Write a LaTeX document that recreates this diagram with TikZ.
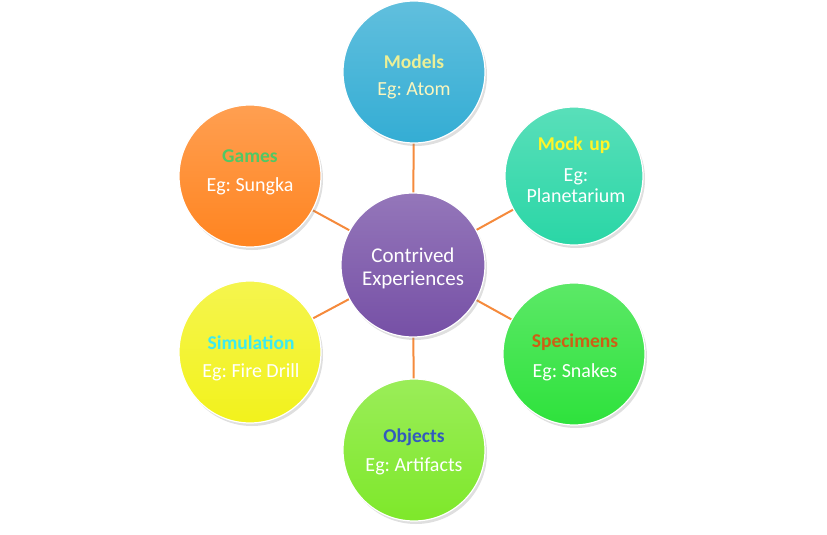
\documentclass[tikz,border=0pt]{standalone}
\usepackage{fontspec}
\setmainfont{Carlito}
\frenchspacing
\usetikzlibrary{shadows}
\definecolor{conn}{HTML}{F58A3C}
\definecolor{cblue}{HTML}{34ADD4}
\definecolor{cteal}{HTML}{2AD6A6}
\definecolor{corange}{HTML}{FF8420}
\definecolor{cyellow}{HTML}{F2F21C}
\definecolor{cgreen}{HTML}{2EE23C}
\definecolor{clime}{HTML}{7EE82A}
\definecolor{cpurple}{HTML}{7650A6}
\tikzset{
  bubble/.style={circle, minimum size=142pt, inner sep=0pt, align=center,
    draw=white, line width=1.2pt, top color=#1!78!white, bottom color=#1,
    drop shadow={shadow xshift=2pt, shadow yshift=-3pt, opacity=0.25}},
  link/.style={draw=conn, line width=2pt},
  ttl/.style={font=\bfseries\fontsize{19.5}{22}\selectfont},
  sub/.style={font=\fontsize{20}{22}\selectfont},
}
\begin{document}
\begin{tikzpicture}[x=1pt,y=-1pt]
\frenchspacing
\useasboundingbox (0,0) rectangle (827,535);
\coordinate (cc) at (413,265);
\coordinate (pm) at (414,72);
\coordinate (pk) at (574,176);
\coordinate (pg) at (250,176);
\coordinate (ps) at (250,352);
\coordinate (pp) at (574,354);
\coordinate (po) at (414,450);
\draw[link] (cc) -- (pm);
\draw[link] (cc) -- (pk);
\draw[link] (cc) -- (pg);
\draw[link] (cc) -- (ps);
\draw[link] (cc) -- (pp);
\draw[link] (cc) -- (po);
\node[bubble=cblue] (models) at (pm) {};
\node[bubble=cteal, minimum size=138pt] (mock) at (pk) {};
\node[bubble=corange] (games) at (pg) {};
\node[bubble=cyellow] (sim) at (ps) {};
\node[bubble=cgreen] (spec) at (pp) {};
\node[bubble=clime] (obj) at (po) {};
\node[bubble=cpurple, minimum size=144pt] (center) at (cc) {};
% texts
\node[ttl, text={rgb,255:red,236;green,240;blue,150}] (t1) at (414,62) {Models};
\node[sub, text={rgb,255:red,250;green,246;blue,190}] (s1) at (414,91) {Eg: Atom};
\node[ttl, text={rgb,255:red,255;green,245;blue,40}] (t2) at (574,145) {Mock\,\,up};
\node[sub, text=white, align=center] (s2) at (576,186) {Eg:\\[-1pt]Planetarium};
\node[ttl, text={rgb,255:red,80;green,200;blue,100}] (t3) at (250,156) {Games};
\node[sub, text=white] (s3) at (250,186) {Eg: Sungka};
\node[sub, text=white, align=center, font=\fontsize{21}{23}\selectfont] (s0) at (413,268) {Contrived\\Experiences};
\node[ttl, text={rgb,255:red,60;green,235;blue,240}] (t4) at (251,343) {Simulation};
\node[sub, text=white] (s4) at (251,372) {Eg: Fire Drill};
\node[ttl, text={rgb,255:red,205;green,95;blue,20}] (t5) at (575,342) {Specimens};
\node[sub, text=white] (s5) at (575,372) {Eg: Snakes};
\node[ttl, text={rgb,255:red,50;green,90;blue,190}] (t6) at (414,437) {Objects};
\node[sub, text=white] (s6) at (414,466) {Eg: Artifacts};
\end{tikzpicture}
\end{document}
